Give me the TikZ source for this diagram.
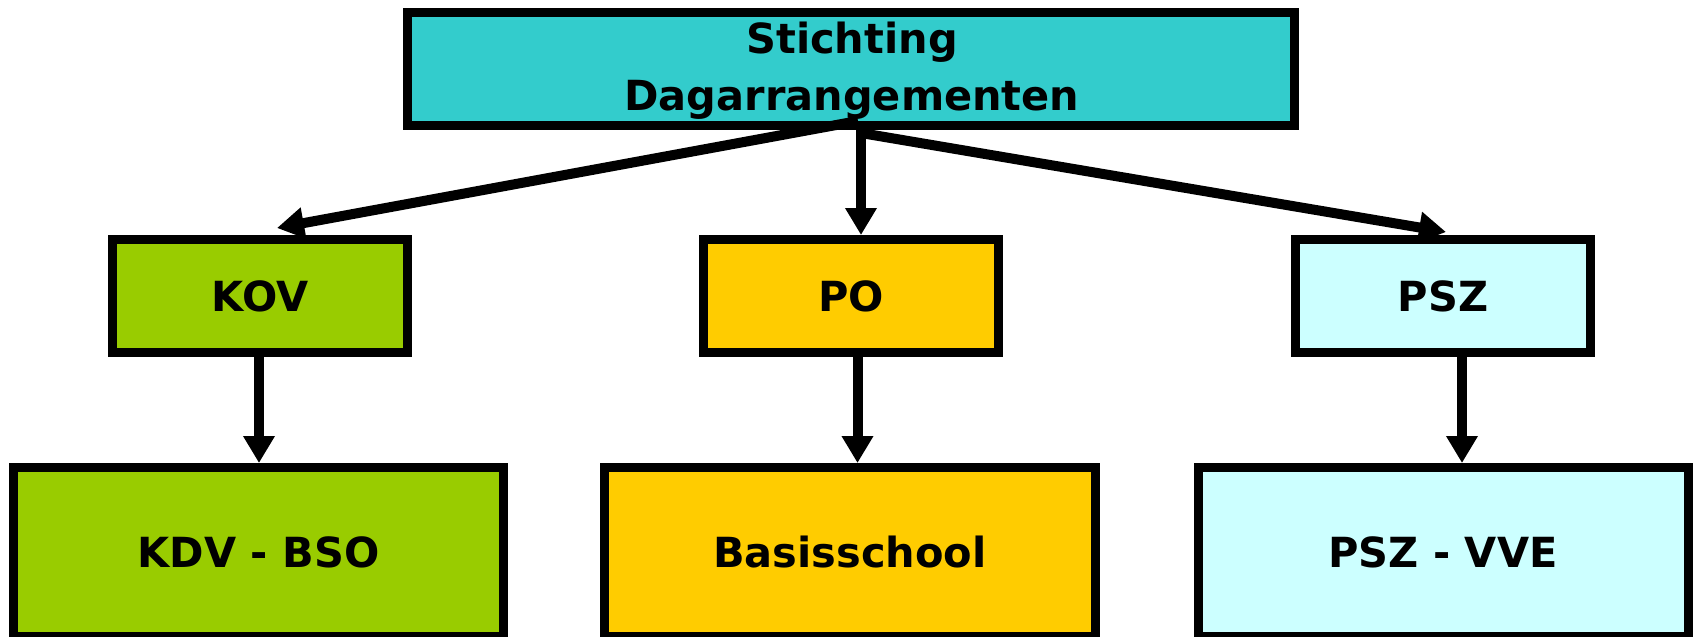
\documentclass[tikz,border=0pt]{standalone}
\usepackage{fontspec}
\setmainfont{DejaVu Sans}
\usetikzlibrary{arrows.meta}
\definecolor{cteal}{HTML}{33CCCC}
\definecolor{cgreen}{HTML}{99CC00}
\definecolor{cyellow}{HTML}{FFCC00}
\definecolor{ccyan}{HTML}{CCFFFF}
\begin{document}
\begin{tikzpicture}[x=1pt,y=-1pt,
  lbl/.style={font=\fontsize{41.5}{56.7}\selectfont\bfseries},
  box/.style={draw=black, line width=9pt, rectangle, inner sep=0pt,
    lbl, text height=30pt, text depth=0pt},
  topbox/.style={box, minimum width=295pt, minimum height=113pt},
  botbox/.style={box, minimum width=490pt, minimum height=169pt},
  conn/.style={line width=10pt, -{Triangle[length=27pt,width=30pt]}}]
\useasboundingbox (0,0) rectangle (1698,637);
\coordinate (hubl) at (858,121);
\coordinate (hubv) at (861,130);
\coordinate (hubr) at (861,133);
\coordinate (tipl) at (277,228);
\coordinate (tipv) at (861,235);
\coordinate (tipr) at (1446,232);
\node[box, fill=cteal, minimum width=887pt, minimum height=113pt] (top) at (851,69) {};
\node[lbl, anchor=base, inner sep=0pt] (t1) at (852,53.5) {Stichting};
\node[lbl, anchor=base, inner sep=0pt] (t2) at (852,110) {Dagarrangementen};
\node[topbox, fill=cgreen] (kov) at (260,296) {KOV};
\node[topbox, fill=cyellow] (po) at (851,296) {PO};
\node[topbox, fill=ccyan] (psz) at (1443,296) {PSZ};
\node[botbox, fill=cgreen] (kdv) at (258.5,552) {KDV - BSO};
\node[botbox, fill=cyellow, minimum width=491.5pt] (bas) at (850,552) {Basisschool};
\node[botbox, fill=ccyan] (vve) at (1443,552) {PSZ - VVE};
\draw[conn] (hubl) -- (tipl);
\draw[conn] (hubv) -- (tipv);
\draw[conn] (hubr) -- (tipr);
\coordinate (kovdown) at (259,357);
\coordinate (podown) at (857.5,357);
\coordinate (pszdown) at (1462,357);
\draw[conn] (kovdown) -- (kovdown |- kdv.north);
\draw[conn] (podown) -- (podown |- bas.north);
\draw[conn] (pszdown) -- (pszdown |- vve.north);
\end{tikzpicture}
\end{document}
